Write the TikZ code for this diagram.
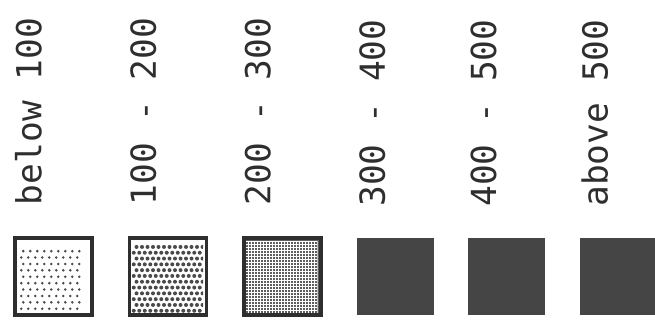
\documentclass[tikz,border=0pt]{standalone}
\usepackage{fontspec}
\setmonofont{DejaVu Sans Mono}
\usepackage{tikz}
\usetikzlibrary{positioning}
\definecolor{InkGray}{HTML}{2E2E2E}
\definecolor{SolidGray}{HTML}{454545}
\definecolor{DotGray}{HTML}{4A4A4A}
\definecolor{MeshGray}{HTML}{5E5E5E}
\tikzset{
  % Rotated legend label
  LB/.style={rotate=90,inner sep=0pt,text=InkGray,
             font=\fontsize{34.5}{36}\selectfont\ttfamily},
  % Base square
  SQ/.style={rectangle,minimum width=77pt,minimum height=77pt,inner sep=0pt},
  % Square variants
  sqO/.style={SQ,draw=InkGray,line width=3.5pt},
  sqM/.style={sqO,fill=MeshGray},
  sqF/.style={SQ,fill=SolidGray},
  % Dot fill
  dt/.style={fill=DotGray}
}
\begin{document}
\begin{tikzpicture}[x=1pt,y=1pt]
  \useasboundingbox (0,0) rectangle (655,329);
  % squares
  \node[sqO] (b1) at (53.5,52.5) {};
  \node[sqO,right=34pt of b1] (b2) {};
  \node[sqM,right=34pt of b2] (b3) {};
  \node[sqF,right=34pt of b3] (b4) {};
  \node[sqF,right=34pt of b4] (b5) {};
  \node[sqF,right=34pt of b5] (b6) {};
  % labels
  \node[LB,above right=31pt and 28pt of b1.north west,anchor=base west] (l1) {below 100};
  \node[LB,above right=31pt and 28pt of b2.north west,anchor=base west] (l2) {100 - 200};
  \node[LB,above right=31pt and 28pt of b3.north west,anchor=base west] (l3) {200 - 300};
  \node[LB,above right=31pt and 28pt of b4.north west,anchor=base west] (l4) {300 - 400};
  \node[LB,above right=31pt and 28pt of b5.north west,anchor=base west] (l5) {400 - 500};
  \node[LB,above right=31pt and 28pt of b6.north west,anchor=base west] (l6) {above 500};
  % sparse dots
  \begin{scope}[shift={(b1.south west)}]
    \clip (1.75,1.75) rectangle (75.25,75.25);
    \foreach \r in {0,...,9}
      \foreach \c in {0,...,8}
        \fill[dt] ({8+7*\c+mod(\r,2)*2},{8+6.4*\r}) circle (1.4);
  \end{scope}
  % dense dots
  \begin{scope}[shift={(b2.south west)}]
    \clip (1.75,1.75) rectangle (75.25,75.25);
    \foreach \r in {0,...,11}
      \foreach \c in {0,...,12}
        \fill[dt] ({6+5.5*\c+mod(\r,2)*2.75},{6+5.8*\r}) circle (2.0);
  \end{scope}
  % mesh
  \begin{scope}[shift={(b3.south west)}]
    \clip (1.75,1.75) rectangle (75.25,75.25);
    \draw[white,line width=0.7pt,step=3] (0,0) grid (77,77);
  \end{scope}
  \node[sqO] at (b3) {};
\end{tikzpicture}
\end{document}
